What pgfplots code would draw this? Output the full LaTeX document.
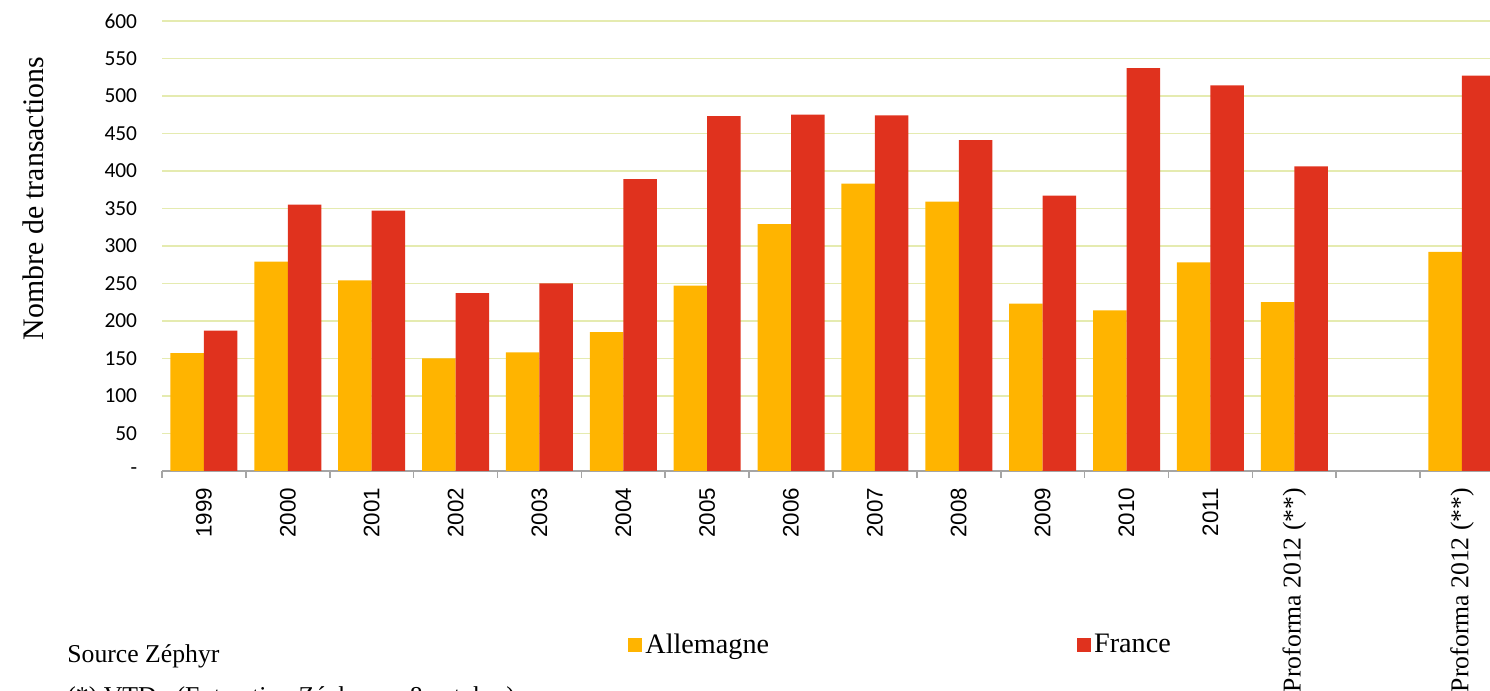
\documentclass[border=0pt]{standalone}
\usepackage{pgfplots}
\pgfplotsset{compat=1.18}
\usepackage{fontspec}
\setmainfont{Liberation Serif}
\newfontfamily\tickfont{Carlito}
\newfontfamily\yearfont{Liberation Sans}
\definecolor{cyel}{RGB}{255,180,0}
\definecolor{cred}{RGB}{224,50,30}
\definecolor{cgrid}{RGB}{229,235,176}
\definecolor{caxis}{RGB}{165,165,165}
\pgfplotsset{/pgfplots/ybar legend/.style={/pgfplots/legend image code/.code={\fill[##1] (0pt,-3.5pt) rectangle (7pt,3.5pt);}}}
\newcommand{\pf}{{\rmfamily\fontsize{12.85}{15}\selectfont Proforma 2012 (**)}}
\begin{document}
\begin{tikzpicture}
\useasboundingbox (0,0) rectangle (745pt,345.5pt);
\clip (0,0) rectangle (745pt,345.5pt);
\begin{axis}[
  at={(81pt,110pt)}, anchor=south west,
  scale only axis, width=664pt, height=225pt,
  xmin=-0.5, xmax=15.334, ymin=0, ymax=600,
  ybar=0pt, bar width=16.75pt,
  axis x line*=bottom, axis y line*=left,
  x axis line style={caxis, line width=0.8pt},
  y axis line style={draw=none},
  xtick={0,...,15},
  xticklabels={1999,2000,2001,2002,2003,2004,2005,2006,2007,2008,2009,2010,2011,{\pf},{},{\pf}},
  major x tick style={draw=none},
  minor xtick={-0.5,0.5,...,15.5},
  minor x tick style={caxis, line width=0.8pt},
  tick align=outside, minor tick length=3.5pt,
  xticklabel style={rotate=90, anchor=east, inner sep=0pt, font=\yearfont\fontsize{11.2}{13}\selectfont},
  xticklabel shift=4pt,
  ytick={0,50,...,600},
  yticklabels={-,50,100,150,200,250,300,350,400,450,500,550,600},
  major y tick style={draw=none},
  yticklabel style={anchor=east, inner sep=0pt, xshift=-8pt, font=\tickfont\fontsize{10.7}{12}\selectfont},
  ymajorgrids, major grid style={cgrid, line width=0.6pt},
  legend style={at={(0.3509,-0.3867)}, anchor=west, draw=none, fill=none, inner sep=0pt,
    legend columns=2, font=\fontsize{14.1}{16}\selectfont,
    nodes={inner sep=1.5pt},
    /tikz/every even column/.append style={column sep=152.5pt}},
]
\addplot[fill=cyel, draw=none] coordinates {
(0,157) (1,279) (2,254) (3,150) (4,158) (5,185) (6,247) (7,329) (8,383) (9,359) (10,223) (11,214) (12,278) (13,225) (15,292)};
\addplot[fill=cred, draw=none] coordinates {
(0,187) (1,355) (2,347) (3,237) (4,250) (5,389) (6,473) (7,475) (8,474) (9,441) (10,367) (11,537) (12,514) (13,406) (15,527)};
\legend{Allemagne, France}
\end{axis}
\node[rotate=90, font=\fontsize{14.9}{17}\selectfont] at (16.5pt,246.25pt) {Nombre de transactions};
\node[anchor=base west, inner sep=0pt, font=\fontsize{12.85}{15}\selectfont] at (33.5pt,14pt) {Source Zéphyr};
\node[anchor=base west, inner sep=0pt, font=\fontsize{12.85}{15}\selectfont] at (33.5pt,-7pt) {(*) VTD : (Extraction Zéphyr au 8 octobre)};
\end{tikzpicture}
\end{document}
